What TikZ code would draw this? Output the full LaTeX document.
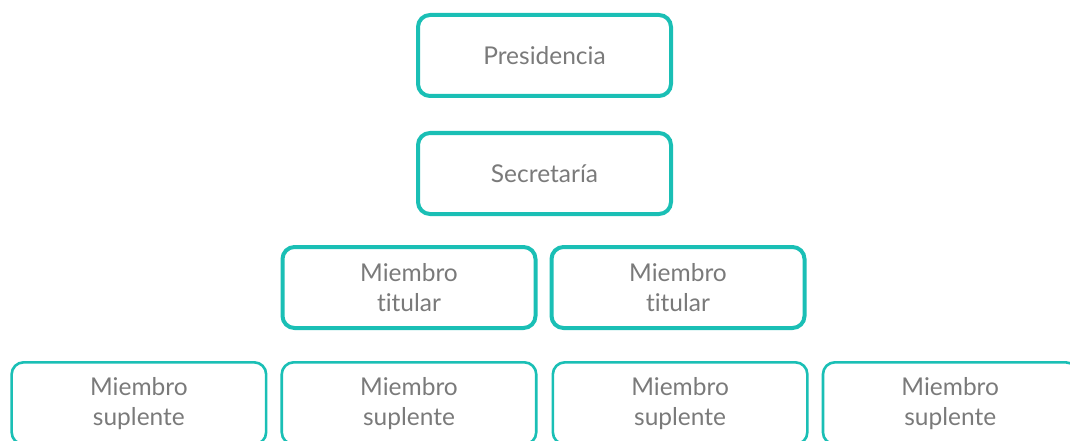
\documentclass[tikz,border=0pt]{standalone}
\usepackage{fontspec}
\setmainfont{Lato}[Ligatures={NoCommon,NoRare,NoContextual}]
\usetikzlibrary{positioning}

\definecolor{orgteal}{HTML}{1ABFB5}
\definecolor{orgtext}{HTML}{7A7A7A}
\tikzset{
  rolbox/.style={draw=orgteal, line width=4pt, rounded corners=12pt,
    minimum width=253pt, minimum height=81pt, align=center,
    text=orgtext, font=\fontsize{24.5}{30}\selectfont},
  suplbox/.style={rolbox, line width=2.6pt, minimum width=254.5pt, minimum height=82pt}
}

\begin{document}
\begin{tikzpicture}[x=1pt,y=-1pt]
          \useasboundingbox (0,0) rectangle (1070,441);
          \node[rolbox] at (544.5,55.5) (pres) {Presidencia};
          \node[rolbox, below=33pt of pres] (sec) {Secretaría};
          \node[rolbox, below=29pt of sec, xshift=-135.5pt] (tit1) {Miembro\\titular};
          \node[rolbox, right=12pt of tit1] (tit2) {Miembro\\titular};
          \node[suplbox, below=31pt of tit1] (sup2) {Miembro\\suplente};
          \node[suplbox, left=13pt of sup2] (sup1) {Miembro\\suplente};
          \node[suplbox, right=14pt of sup2] (sup3) {Miembro\\suplente};
          \node[suplbox, right=13pt of sup3] (sup4) {Miembro\\suplente};
        \end{tikzpicture}
\end{document}
